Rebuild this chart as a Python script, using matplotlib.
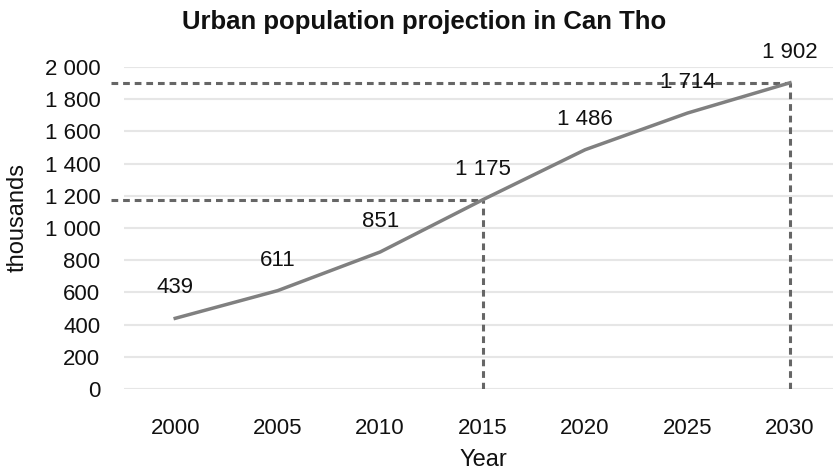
import matplotlib.pyplot as plt

plt.rcParams['font.family'] = ['Liberation Sans', 'DejaVu Sans']

years = ['2000', '2005', '2010', '2015', '2020', '2025', '2030']
population = [439, 611, 851, 1175, 1486, 1714, 1902]
y_ticks = [0, 200, 400, 600, 800, 1000, 1200, 1400, 1600, 1800, 2000]


def fmt(v):
    return f'{v:,}'.replace(',', ' ')


fig = plt.figure(figsize=(8.33, 4.72), dpi=100)
ax = fig.add_axes([124 / 833, 83 / 472, 709 / 833, 322 / 472])

x = list(range(len(years)))
ax.plot(x, population, color='#808080', linewidth=2.5, zorder=3)

# data labels above points
for xi, v in zip(x, population):
    ax.annotate(fmt(v), (xi, v), xytext=(0, 22), textcoords='offset points',
                ha='center', va='center', fontsize=16, color='#111111', zorder=4)

# dashed guide lines for 2015 and 2030
for idx in (3, 6):
    v = population[idx]
    ax.plot([-0.63, idx], [v, v], color='#666666', linestyle=(0, (2.2, 1.6)),
            linewidth=2.2, clip_on=False, zorder=2)
    ax.plot([idx, idx], [0, v], color='#666666', linestyle=(0, (2.2, 1.6)),
            linewidth=2.2, zorder=2)

ax.set_xlim(-0.5, 6.42)
ax.set_ylim(0, 2000)
ax.set_xticks(x)
ax.set_xticklabels(years)
ax.set_yticks(y_ticks)
ax.set_yticklabels([fmt(t) for t in y_ticks])
ax.tick_params(axis='both', length=0, labelsize=16, colors='#111111')
ax.tick_params(axis='x', pad=21)
ax.tick_params(axis='y', pad=17)
ax.grid(axis='y', color='#e6e6e6', linewidth=1.5)
ax.set_axisbelow(True)
for s in ax.spines.values():
    s.set_visible(False)

fig.text(18 / 833, 1 - 218 / 472, 'thousands', rotation=90, ha='center', va='center',
         fontsize=17, color='#111111')
fig.text(483 / 833, 1 - 460 / 472, 'Year', ha='center', va='center',
         fontsize=17, color='#111111')
fig.text(424 / 833, 1 - 22 / 472, 'Urban population projection in Can Tho',
         ha='center', va='center', fontsize=18.5, fontweight='bold', color='#111111')

fig.savefig('out.png', dpi=100)
